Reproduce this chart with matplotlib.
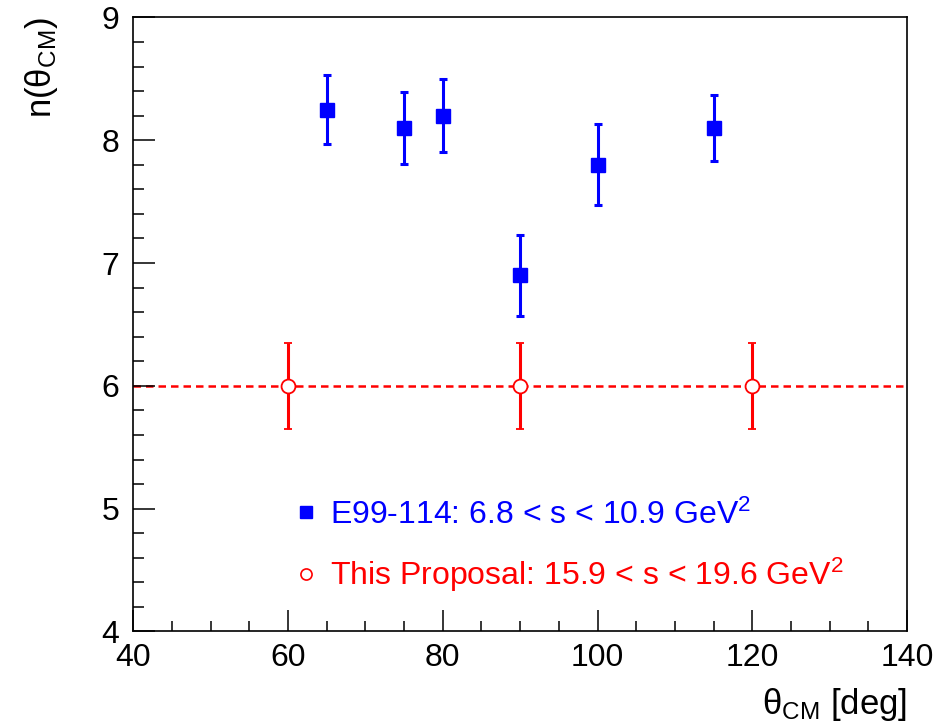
import matplotlib as mpl
mpl.use('Agg')
import matplotlib.pyplot as plt
from matplotlib.lines import Line2D

plt.rcParams['font.family'] = ['Liberation Sans', 'DejaVu Sans']
plt.rcParams['mathtext.fontset'] = 'custom'
plt.rcParams['mathtext.rm'] = 'Liberation Sans'
plt.rcParams['mathtext.it'] = 'Liberation Sans:italic'

# E99-114 measurements
e99_theta = [65, 75, 80, 90, 100, 115]
e99_n = [8.25, 8.10, 8.20, 6.90, 7.80, 8.10]
e99_err = [0.28, 0.29, 0.30, 0.33, 0.33, 0.27]

# projected points for this proposal
prop_theta = [60, 90, 120]
prop_n = [6.0, 6.0, 6.0]
prop_err = [0.35, 0.35, 0.35]
prop_line = 6.0

e99_label = r'E99-114: 6.8 < s < 10.9 GeV$^{2}$'
prop_label = r'This Proposal: 15.9 < s < 19.6 GeV$^{2}$'

fig = plt.figure(figsize=(9.44, 7.25), dpi=100)
ax = fig.add_axes([0.141, 0.129, 0.820, 0.847])

ax.axhline(prop_line, color='red', ls=(0, (3, 2)), lw=1.8, zorder=1)

ax.errorbar(e99_theta, e99_n, yerr=e99_err, fmt='s', color='blue',
            ms=10, elinewidth=2.2, capsize=3, capthick=2.2, zorder=3)
ax.errorbar(prop_theta, prop_n, yerr=prop_err, fmt='o', color='red',
            mfc='white', mec='red', ms=10, mew=1.3,
            elinewidth=2.2, capsize=3, capthick=2.2, zorder=3)

ax.set_xlim(40, 140)
ax.set_ylim(4, 9)
ax.set_xticks([40, 60, 80, 100, 120, 140])
ax.set_xticks(range(40, 141, 5), minor=True)
ax.set_yticks([4, 5, 6, 7, 8, 9])
ax.set_yticks([4 + 0.2 * i for i in range(26)], minor=True)
ax.tick_params(which='both', direction='in', labelsize=23, width=1.1)
ax.tick_params(axis='y', which='major', length=16, pad=10)
ax.tick_params(axis='y', which='minor', length=8)
ax.tick_params(axis='x', which='major', length=15, pad=8)
ax.tick_params(axis='x', which='minor', length=7)
for sp in ax.spines.values():
    sp.set_linewidth(1.2)

ax.set_xlabel(r'θ$_{\rm CM}$ [deg]', fontsize=25, loc='right', labelpad=10)
ax.set_ylabel(r'n(θ$_{\rm CM}$)', fontsize=25, loc='top', labelpad=30)

handles = [
    Line2D([], [], ls='none', marker='s', color='blue', ms=8),
    Line2D([], [], ls='none', marker='o', mfc='white', mec='red', ms=8, mew=1.2),
]
leg = ax.legend(handles, [e99_label, prop_label], loc='upper left',
                bbox_to_anchor=(0.166, 0.262), frameon=False, fontsize=23,
                handlelength=1.0, handletextpad=0.25, labelspacing=0.8)
leg.get_texts()[0].set_color('blue')
leg.get_texts()[1].set_color('red')

fig.savefig('out.png', dpi=100)
